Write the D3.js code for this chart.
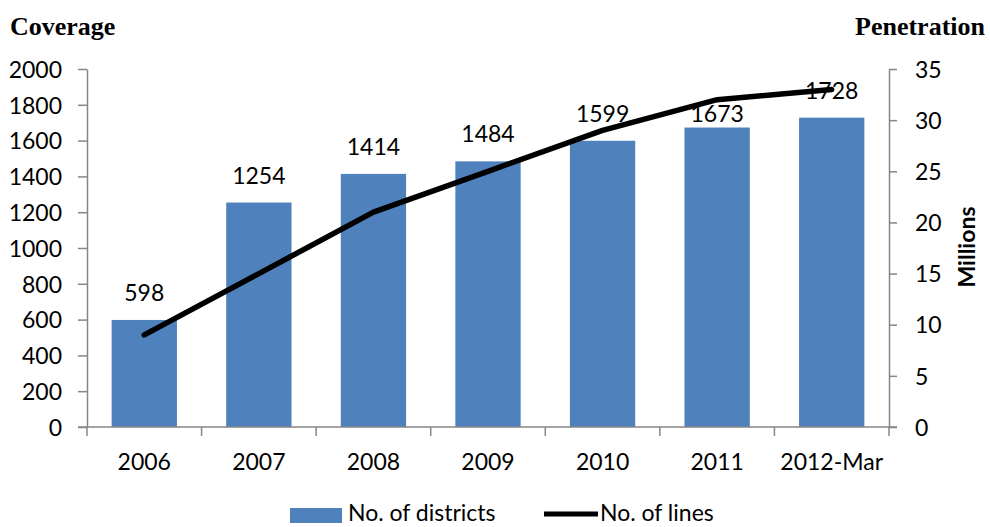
<!DOCTYPE html>
<html>
<head>
<meta charset="utf-8">
<script src="https://cdn.jsdelivr.net/npm/d3@7/dist/d3.min.js"></script>
<style>
  html, body { margin: 0; padding: 0; background: #fff; }
  svg { display: block; }
  .tick text { font-family: Lato, "Open Sans", sans-serif; font-size: 23px; fill: #000; }
</style>
</head>
<body>
<script>
// Coverage (districts) and penetration (lines, millions) by year
const years = ["2006", "2007", "2008", "2009", "2010", "2011", "2012-Mar"];
const districts = [598, 1254, 1414, 1484, 1599, 1673, 1728];
const linesMillions = [9, 15, 21, 25, 29, 32, 33];
const leftTicks = [0, 200, 400, 600, 800, 1000, 1200, 1400, 1600, 1800, 2000];
const rightTicks = [0, 5, 10, 15, 20, 25, 30, 35];

const W = 990, H = 527;
const plot = { left: 87, right: 889, top: 69, bottom: 427 };
const axisColor = "#868686";
const barColor = "#4F81BD";
const font = "Lato, 'Open Sans', sans-serif";
const fs = 23;

const svg = d3.select("body").append("svg").attr("width", W).attr("height", H);

const x = d3.scaleBand().domain(years).range([plot.left, plot.right]).paddingInner(0.43).paddingOuter(0.215);
const xBand = d3.scaleBand().domain(years).range([plot.left, plot.right]);
const yL = d3.scaleLinear().domain([0, 2000]).range([plot.bottom, plot.top]);
const yR = d3.scaleLinear().domain([0, 35]).range([plot.bottom, plot.top]);

// Bars
svg.append("g").selectAll("rect").data(districts).join("rect")
  .attr("x", (d, i) => x(years[i]))
  .attr("y", d => yL(d))
  .attr("width", x.bandwidth())
  .attr("height", d => yL(0) - yL(d))
  .attr("fill", barColor);

// Left axis
const gL = svg.append("g").attr("transform", `translate(${plot.left},0)`)
  .call(d3.axisLeft(yL).tickValues(leftTicks).tickFormat(d3.format("d"))
    .tickSize(9).tickPadding(16).tickSizeOuter(0));
gL.selectAll("path, line").attr("stroke", axisColor).attr("stroke-width", 1.5);
gL.selectAll("text").attr("dy", "0.36em");

// Right axis
const gR = svg.append("g").attr("transform", `translate(${plot.right},0)`)
  .call(d3.axisRight(yR).tickValues(rightTicks).tickFormat(d3.format("d"))
    .tickSize(8).tickPadding(18).tickSizeOuter(0));
gR.selectAll("path, line").attr("stroke", axisColor).attr("stroke-width", 1.5);
gR.selectAll("text").attr("dy", "0.36em");

// Bottom axis: ticks at band boundaries, labels at band centres
const gB = svg.append("g").attr("transform", `translate(0,${plot.bottom})`);
gB.append("line").attr("x1", plot.left - 9).attr("x2", plot.right + 8)
  .attr("y1", 0).attr("y2", 0).attr("stroke", axisColor).attr("stroke-width", 1.5);
const bounds = years.map(y => xBand(y)).concat([plot.right]);
gB.selectAll("line.tk").data(bounds).join("line").attr("class", "tk")
  .attr("x1", d => d).attr("x2", d => d).attr("y1", 0).attr("y2", 9)
  .attr("stroke", axisColor).attr("stroke-width", 1.5);
gB.selectAll("text").data(years).join("text")
  .attr("x", d => xBand(d) + xBand.bandwidth() / 2)
  .attr("y", 43)
  .attr("text-anchor", "middle")
  .attr("font-family", font).attr("font-size", fs).attr("fill", "#000")
  .text(d => d);

// Value labels above bars; the 2011 label sits lower, just under the line
const labelGap = (i) => years[i] === "2011" ? 6 : 19;
svg.append("g").selectAll("text").data(districts).join("text")
  .attr("x", (d, i) => x(years[i]) + x.bandwidth() / 2)
  .attr("y", (d, i) => yL(d) - labelGap(i))
  .attr("text-anchor", "middle")
  .attr("font-family", font).attr("font-size", fs).attr("fill", "#000")
  .text(d => d);

// Line series
const line = d3.line()
  .x((d, i) => xBand(years[i]) + xBand.bandwidth() / 2)
  .y(d => yR(d));
svg.append("path").datum(linesMillions)
  .attr("d", line)
  .attr("fill", "none").attr("stroke", "#000").attr("stroke-width", 5.5)
  .attr("stroke-linejoin", "round").attr("stroke-linecap", "round");

// Axis titles
svg.append("text").attr("x", 10).attr("y", 35)
  .attr("font-family", "'Liberation Serif', 'Times New Roman', serif")
  .attr("font-weight", "bold").attr("font-size", 26).text("Coverage");
svg.append("text").attr("x", 985).attr("y", 35).attr("text-anchor", "end")
  .attr("font-family", "'Liberation Serif', 'Times New Roman', serif")
  .attr("font-weight", "bold").attr("font-size", 26).text("Penetration");
svg.append("text")
  .attr("transform", "translate(975,247) rotate(-90)")
  .attr("text-anchor", "middle")
  .attr("font-family", font).attr("font-weight", "bold").attr("font-size", 23)
  .text("Millions");

// Legend
const lg = svg.append("g");
lg.append("rect").attr("x", 290).attr("y", 508).attr("width", 52).attr("height", 15).attr("fill", barColor);
lg.append("text").attr("x", 348).attr("y", 521)
  .attr("font-family", font).attr("font-size", fs).text("No. of districts");
lg.append("line").attr("x1", 544).attr("x2", 598).attr("y1", 514).attr("y2", 514)
  .attr("stroke", "#000").attr("stroke-width", 5);
lg.append("text").attr("x", 600).attr("y", 521)
  .attr("font-family", font).attr("font-size", fs).text("No. of lines");
</script>
</body>
</html>
